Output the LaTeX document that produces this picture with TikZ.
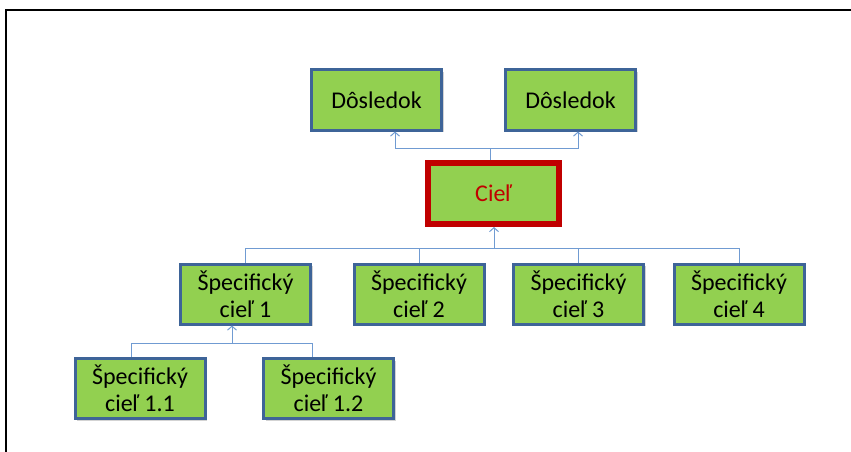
\documentclass[tikz,border=0pt]{standalone}
\usepackage{fontspec}
\setmainfont{Carlito}
\usetikzlibrary{arrows.meta,shadows}
\definecolor{boxgreen}{RGB}{146,208,80}
\definecolor{boxblue}{RGB}{62,100,152}
\definecolor{linkblue}{RGB}{112,155,210}
\definecolor{goalred}{RGB}{192,0,0}

\begin{document}
\begin{tikzpicture}[x=1pt,y=-1pt,>={Straight Barb[length=4pt,width=9pt]},
	box/.style={rectangle,fill=boxgreen,draw=boxblue,line width=3pt,align=center,
		minimum width=130pt,minimum height=60pt,inner sep=0pt,
		font=\fontsize{24}{27}\selectfont,
		drop shadow={opacity=0.35,shadow xshift=2pt,shadow yshift=-2pt}},
	goal/.style={box,draw=goalred,text=goalred,line width=6pt,
		minimum width=131pt,minimum height=61pt},
	link/.style={draw=linkblue,line width=1pt}]

	\useasboundingbox (0,0) rectangle (851,452);
	% outer frame, only top and left edge inside the page
	\draw[line width=2pt] (851,10) -- (6,10) -- (6,452);

	\node[box] (dos1) at (376.5,100) {Dôsledok};
	\node[box] (dos2) at (570.5,100) {Dôsledok};
	\node[goal] (ciel) at (493.5,193.5) {Cieľ};

	\node[box] (sc1) at (245.5,294) {Špecifický\\cieľ 1};
	\node[box] (sc2) at (419,294) {Špecifický\\cieľ 2};
	\node[box] (sc3) at (578.5,294) {Špecifický\\cieľ 3};
	\node[box] (sc4) at (739,294) {Špecifický\\cieľ 4};

	\node[box] (sc11) at (140,388.5) {Špecifický\\cieľ 1.1};
	\node[box] (sc12) at (328.5,388.5) {Špecifický\\cieľ 1.2};

	% bus lines
	\coordinate (top bus) at (490,148);
	\coordinate (mid bus) at (494,248);
	\coordinate (low bus) at (232,343);

	\draw[link] (ciel.north -| top bus) -- (top bus);
	\draw[link,->] (top bus) -| ([xshift=18.5pt]dos1.south);
	\draw[link,->] (top bus) -| ([xshift=7.5pt]dos2.south);

	\draw[link,->] (mid bus) -- (ciel.south -| mid bus);
	\foreach \n in {sc1,sc2,sc3,sc4}
		\draw[link] (mid bus) -| (\n.north);

	\draw[link,->] (low bus) -- (sc1.south -| low bus);
	\draw[link] (low bus) -| ([xshift=-9pt]sc11.north);
	\draw[link] (low bus) -| ([xshift=-16.5pt]sc12.north);
\end{tikzpicture}
\end{document}
